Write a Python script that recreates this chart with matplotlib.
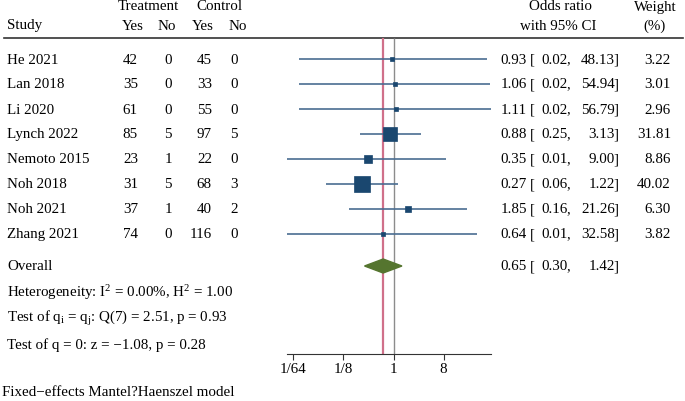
import numpy as np
import matplotlib.pyplot as plt
from matplotlib.patches import Polygon

plt.rcParams['font.family'] = ['Liberation Serif', 'DejaVu Serif']
plt.rcParams['mathtext.fontset'] = 'custom'
plt.rcParams['mathtext.rm'] = 'Liberation Serif'
plt.rcParams['mathtext.it'] = 'Liberation Serif:italic'

studies = ["He 2021", "Lan 2018", "Li 2020", "Lynch 2022", "Nemoto 2015",
           "Noh 2018", "Noh 2021", "Zhang 2021"]
treat_yes = [42, 35, 61, 85, 23, 31, 37, 74]
treat_no = [0, 0, 0, 5, 1, 5, 1, 0]
ctrl_yes = [45, 33, 55, 97, 22, 68, 40, 116]
ctrl_no = [0, 0, 0, 5, 0, 3, 2, 0]
odds = [0.93, 1.06, 1.11, 0.88, 0.35, 0.27, 1.85, 0.64]
ci_low = [0.02, 0.02, 0.02, 0.25, 0.01, 0.06, 0.16, 0.01]
ci_high = [48.13, 54.94, 56.79, 3.13, 9.00, 1.22, 21.26, 32.58]
weights = [3.22, 3.01, 2.96, 31.81, 8.86, 40.02, 6.30, 3.82]
overall = (0.65, 0.30, 1.42)
tick_vals = [1/64, 1/8, 1, 8]
tick_labels = ["1/64", "1/8", "1", "8"]

W, H = 685, 402
fig = plt.figure(figsize=(W / 100, H / 100), dpi=100)
ax = fig.add_axes([0, 0, 1, 1])
ax.set_xlim(0, W)
ax.set_ylim(H, 0)
ax.axis('off')

fs = 10.8
navy = '#1a476f'
rows = 60 + 25 * np.arange(len(studies))
y_over = 267
y_top = 39
y_axis = 355


def or_text(y, est, lo, hi):
    ax.text(527, y, f"{est:.2f}", fontsize=fs, ha='right', va='center')
    ax.text(530, y, "[", fontsize=fs, ha='left', va='center')
    ax.text(568, y, f"{lo:.2f}", fontsize=fs, ha='right', va='center')
    ax.text(566.5, y, ",", fontsize=fs, ha='left', va='center')
    ax.text(615, y, f"{hi:.2f}", fontsize=fs, ha='right', va='center')
    ax.text(613.5, y, "]", fontsize=fs, ha='left', va='center')


# header
ax.text(148, 7, "Treatment", fontsize=fs, ha='center', va='center')
ax.text(219, 7, "Control", fontsize=fs, ha='center', va='center')
ax.text(7, 26, "Study", fontsize=fs, ha='left', va='center')
for x, s in [(133, "Yes"), (167, "No"), (203, "Yes"), (238, "No")]:
    ax.text(x, 26, s, fontsize=fs, ha='center', va='center')
ax.text(561, 7, "Odds ratio", fontsize=fs, ha='center', va='center')
ax.text(558, 26, "with 95% CI", fontsize=fs, ha='center', va='center')
ax.text(655, 7, "Weight", fontsize=fs, ha='center', va='center')
ax.text(655, 26, "(%)", fontsize=fs, ha='center', va='center')
ax.plot([4, 683], [y_top, y_top], color='#333333', lw=1.2)

for i, y in enumerate(rows):
    ax.text(7, y, studies[i], fontsize=fs, ha='left', va='center')
    ax.text(138, y, str(treat_yes[i]), fontsize=fs, ha='right', va='center')
    ax.text(172, y, str(treat_no[i]), fontsize=fs, ha='right', va='center')
    ax.text(212, y, str(ctrl_yes[i]), fontsize=fs, ha='right', va='center')
    ax.text(238, y, str(ctrl_no[i]), fontsize=fs, ha='right', va='center')
    or_text(y, odds[i], ci_low[i], ci_high[i])
    ax.text(671, y, f"{weights[i]:.2f}", fontsize=fs, ha='right', va='center')

ax.text(7, y_over, "Overall", fontsize=fs, ha='left', va='center')
or_text(y_over, *overall)

ax.text(7, 293, r"Heterogeneity: I$^2$ = 0.00%, H$^2$ = 1.00", fontsize=fs, ha='left', va='center')
ax.text(7, 319, r"Test of q$_\mathrm{i}$ = q$_\mathrm{j}$: Q(7) = 2.51, p = 0.93", fontsize=fs, ha='left', va='center')
ax.text(7, 345, "Test of q = 0: z = \u22121.08, p = 0.28", fontsize=fs, ha='left', va='center')
ax.text(2, 393, "Fixed\u2212effects Mantel?Haenszel model", fontsize=fs, ha='left', va='center')

# forest panel
x0, x1 = 287, 491
ax2 = fig.add_axes([x0 / W, 0, (x1 - x0) / W, 1], sharey=ax)
ax2.set_xscale('log', base=2)
ax2.set_xlim(2 ** -6.38, 2 ** 5.84)
ax2.set_ylim(H, 0)
ax2.patch.set_alpha(0)
for s in ['top', 'right', 'left']:
    ax2.spines[s].set_visible(False)
ax2.spines['bottom'].set_position(('data', y_axis))
ax2.spines['bottom'].set_color('#333333')
ax2.tick_params(axis='y', left=False, labelleft=False)
ax2.set_xticks(tick_vals)
ax2.set_xticklabels(tick_labels, fontsize=fs)
ax2.xaxis.set_minor_locator(plt.NullLocator())
ax2.tick_params(axis='x', direction='out', length=4, color='#333333', pad=2)

ax2.vlines(1, y_top, y_axis, color='#8c8c8c', lw=1, zorder=1)
ax2.vlines(overall[0], y_top, y_axis, color='#d0708a', lw=1.6, zorder=1)

ax2.hlines(rows, ci_low, ci_high, color='#4a6d91', lw=1.2, zorder=2)
for i, y in enumerate(rows):
    ms = 11.5 * np.sqrt(weights[i] / 40.02)
    ax2.plot(odds[i], y, marker='s', ms=ms, color=navy, mec=navy, mew=0.5, zorder=3)

dia = Polygon([(overall[1], y_over), (overall[0], y_over - 7),
               (overall[2], y_over), (overall[0], y_over + 7)],
              closed=True, facecolor='#55752f', edgecolor='#55752f', zorder=3)
ax2.add_patch(dia)

fig.savefig("out.png", dpi=100)
